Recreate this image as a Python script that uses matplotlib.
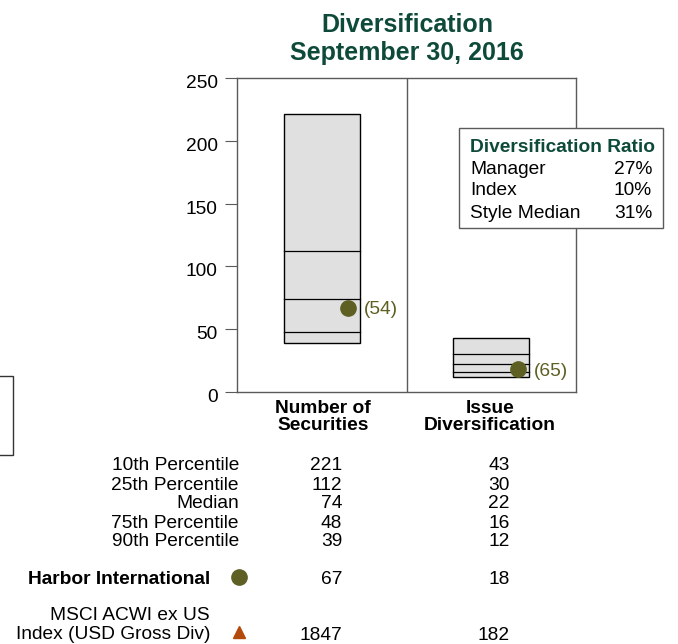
import matplotlib
matplotlib.use("Agg")
import matplotlib.pyplot as plt
import matplotlib.transforms as mtransforms
from matplotlib.patches import Rectangle

plt.rcParams['font.family'] = ['Liberation Sans', 'DejaVu Sans']

categories = ["Number of\nSecurities", "Issue\nDiversification"]
pct_labels = ["10th Percentile", "25th Percentile", "Median", "75th Percentile", "90th Percentile"]
pct_values = [[221, 112, 74, 48, 39], [43, 30, 22, 16, 12]]
manager_name = "Harbor International"
manager_values = [67, 18]
manager_ranks = ["(54)", "(65)"]
index_name = "MSCI ACWI ex US\nIndex (USD Gross Div)"
index_values = [1847, 182]
ratio_rows = [("Manager", "27%"), ("Index", "10%"), ("Style Median", "31%")]
yticks = [0, 50, 100, 150, 200, 250]

W, H = 678, 644
GREEN = "#0e4a3a"
OLIVE = "#5e5f22"
ORANGE = "#b4490c"
FRAME = "#5a5a5a"
FS = 13.8
DY = 3  # small downward nudge so text sits centred on its row

fig = plt.figure(figsize=(W / 100, H / 100), dpi=100)

def fx(px):
    return px / W

def fy(py):
    return 1 - (py + DY) / H

def fyb(py):
    return 1 - py / H

ax = fig.add_axes([fx(237), fyb(392), fx(576) - fx(237), fyb(78) - fyb(392)])
ax.set_xlim(0.5, 2.5)
ax.set_ylim(0, 250)
ax.set_yticks(yticks)
ax.set_yticklabels([str(t) for t in yticks])
ax.set_xticks([])
for s in ax.spines.values():
    s.set_color(FRAME)
    s.set_linewidth(1.0)
ax.tick_params(axis='y', direction='out', length=9, color=FRAME, labelsize=FS, pad=5)
shift = mtransforms.ScaledTranslation(0, -2.5 / 72, fig.dpi_scale_trans)
for lbl in ax.get_yticklabels():
    lbl.set_transform(lbl.get_transform() + shift)
ax.axvline(1.5, color=FRAME, lw=1.0)

bw = 0.45
for i, vals in enumerate(pct_values):
    xc = i + 1
    top, bot = vals[0], vals[-1]
    ax.add_patch(Rectangle((xc - bw / 2, bot), bw, top - bot, facecolor="#e0e0e0",
                           edgecolor="black", lw=1.0, zorder=2))
    for v in vals[1:-1]:
        ax.plot([xc - bw / 2, xc + bw / 2], [v, v], color="black", lw=0.9, zorder=3)
    ax.plot(xc + 0.155, manager_values[i], 'o', color=OLIVE, ms=11, zorder=4)
    ax.text(xc + 0.25, manager_values[i], manager_ranks[i], color=OLIVE, fontsize=FS,
            ha='left', va='center_baseline', zorder=4)

# Ratio inset box
fig.patches.append(Rectangle((fx(459), fyb(228)), fx(663) - fx(459), fyb(128) - fyb(228),
                             transform=fig.transFigure, facecolor="white",
                             edgecolor=FRAME, lw=1.0, zorder=5))
fig.text(fx(470), fy(144), "Diversification Ratio", color=GREEN, fontsize=FS,
         fontweight='bold', ha='left', va='center', zorder=6)
for k, (name, val) in enumerate(ratio_rows):
    y = fy(166 + k * 22)
    fig.text(fx(470), y, name, fontsize=FS, ha='left', va='center', zorder=6)
    fig.text(fx(652), y, val, fontsize=FS, ha='right', va='center', zorder=6)

# Titles
fig.text(fx(407), fy(22), "Diversification", color=GREEN, fontsize=18,
         fontweight='bold', ha='center', va='center')
fig.text(fx(407), fy(50), "September 30, 2016", color=GREEN, fontsize=18,
         fontweight='bold', ha='center', va='center')

# Category labels
col_x = [323, 490]
for cx, cat in zip(col_x, categories):
    fig.text(fx(cx), fy(414), cat, fontsize=FS, fontweight='bold', ha='center',
             va='center', linespacing=0.95)

# Percentile table
val_x = [342, 510]
row_y = [462, 482, 501, 520, 539]
for ry, lab, i in zip(row_y, pct_labels, range(5)):
    fig.text(fx(239), fy(ry), lab, fontsize=FS, ha='right', va='center')
    for vx, vals in zip(val_x, pct_values):
        fig.text(fx(vx), fy(ry), str(vals[i]), fontsize=FS, ha='right', va='center')

fig.text(fx(210), fy(577), manager_name, fontsize=FS, fontweight='bold',
         ha='right', va='center')
fig.add_artist(plt.Line2D([fx(239)], [fyb(577)], marker='o', color=OLIVE, ms=11,
                          transform=fig.transFigure))
for vx, v in zip(val_x, manager_values):
    fig.text(fx(vx), fy(577), str(v), fontsize=FS, ha='right', va='center')

fig.text(fx(210), fy(622), index_name, fontsize=FS, ha='right', va='center',
         linespacing=1.1)
fig.add_artist(plt.Line2D([fx(239)], [fyb(632)], marker='^', color=ORANGE, ms=9,
                          transform=fig.transFigure))
for vx, v in zip(val_x, index_values):
    fig.text(fx(vx), fy(633), str(v), fontsize=FS, ha='right', va='center')

# Legend frame at the left edge
fig.patches.append(Rectangle((fx(-20), fyb(455)), fx(13) - fx(-20), fyb(376) - fyb(455),
                             transform=fig.transFigure, facecolor="none",
                             edgecolor="#333333", lw=1.0))

fig.savefig("out.png", dpi=100)
